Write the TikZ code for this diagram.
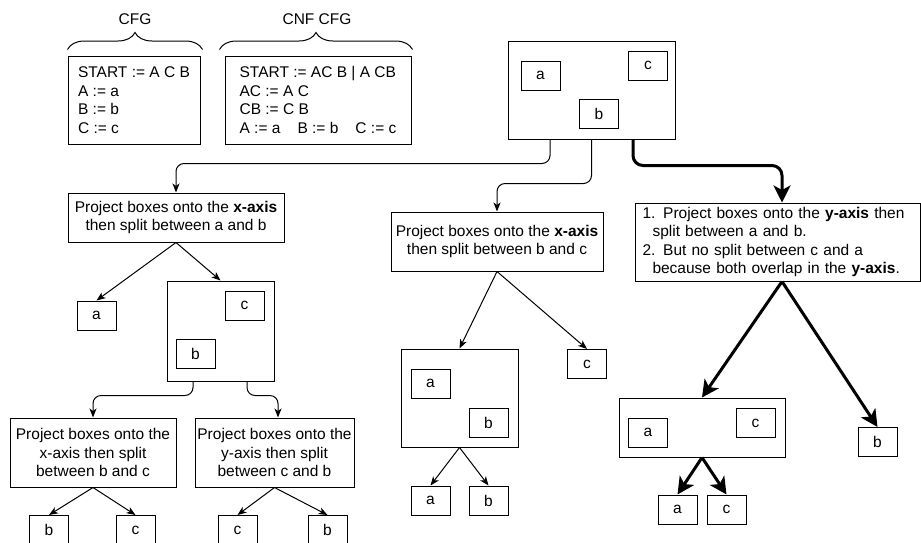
\documentclass[tikz,border=0pt]{standalone}
\usepackage{fontspec}
\setmainfont{Liberation Sans}
\usetikzlibrary{arrows.meta,decorations.pathreplacing,positioning}

\begin{document}
\begin{tikzpicture}[x=1pt,y=-1pt,
    font=\fontsize{15.5}{18.5}\selectfont,
    box/.style={draw,line width=1pt,inner sep=0pt,align=center},
    leaf/.style={box,minimum width=39pt,minimum height=29pt},
    link/.style={line width=1pt,-{Stealth[length=9pt,width=7pt,inset=2.5pt]}},
    elbow/.style={link,rounded corners=8pt},
    strong/.style={line width=3pt,-{Stealth[length=17pt,width=17pt,inset=4.5pt]}},
    strongelbow/.style={strong,rounded corners=10pt},
    curly/.style={line width=1pt,decorate,decoration={brace,amplitude=17pt}}]
    \clip (0,0) rectangle (921,542);

    \node[box,minimum width=132pt,minimum height=88pt,align=left] (cfg) at (134,100) {START := A C B\\A := a\\B := b\\C := c};
    \node[box,minimum width=186pt,minimum height=88pt,align=left] (cnf) at (318,100) {START := AC B \textbar{} A CB\\AC := A C\\CB := C B\\A := a\hspace{17pt}B := b\hspace{17pt}C := c};
    \draw[curly] ([yshift=6pt]cfg.north west) -- ([xshift=2pt,yshift=6pt]cfg.north east);
    \draw[curly] ([xshift=-5pt,yshift=6pt]cnf.north west) -- ([xshift=1pt,yshift=6pt]cnf.north east);
    \node (cfglabel) at (135,19) {CFG};
    \node (cnflabel) at (317,19) {CNF CFG};

    \node[box,minimum width=167pt,minimum height=98pt] (start) at (591.5,90) {};
    \node[leaf] (start-a) at (540.5,75.5) {a};
    \node[leaf] (start-c) at (648,65.5) {c};
    \node[leaf] (start-b) at (599,114) {b};

    \node[box,minimum width=216pt,minimum height=49pt] (splitab) at (176,217.5) {Project boxes onto the \textbf{x-axis}\\then split between a and b};
    \node[leaf] (leaf-a1) at (96.5,315.5) {a};
    \node[box,minimum width=107pt,minimum height=100pt] (bc) at (220.5,331) {};
    \node[leaf] (bc-c) at (244.5,305.5) {c};
    \node[leaf] (bc-b) at (195.5,354) {b};
    \node[box,minimum width=166pt,minimum height=69pt] (splitxbc) at (93,452.5) {Project boxes onto the\\x-axis then split\\between b and c};
    \node[box,minimum width=159pt,minimum height=69pt] (splitycb) at (274.5,452.5) {Project boxes onto the\\y-axis then split\\between c and b};
    \node[leaf] (leaf-b1) at (49,530) {b};
    \node[leaf] (leaf-c1) at (135.5,530) {c};
    \node[leaf] (leaf-c2) at (237.5,530) {c};
    \node[leaf] (leaf-b2) at (327.5,530) {b};

    \node[box,minimum width=212pt,minimum height=59pt] (splitbc) at (497,241.5) {Project boxes onto the \textbf{x-axis}\\then split between b and c};
    \node[box,minimum width=117pt,minimum height=98pt] (ab) at (459.5,398) {};
    \node[leaf] (ab-a) at (430.5,383.5) {a};
    \node[leaf] (ab-b) at (488.5,423) {b};
    \node[leaf] (leaf-c3) at (587,364) {c};
    \node[leaf] (leaf-a3) at (430.5,500.5) {a};
    \node[leaf] (leaf-b3) at (488.5,500.5) {b};

    \node[box,minimum width=285pt,minimum height=78pt,text width=270pt,align=left] (splityaxis) at (777.5,242) {1. Project boxes onto the \textbf{y-axis} then\\\hspace*{10pt}split between a and b.\\2. But no split between c and a\\\hspace*{10pt}because both overlap in the \textbf{y-axis}.};
    \node[box,minimum width=166pt,minimum height=59pt] (ac) at (702,427.5) {};
    \node[leaf] (ac-a) at (648,432.5) {a};
    \node[leaf] (ac-c) at (755.5,423) {c};
    \node[leaf] (leaf-b4) at (877.5,442) {b};
    \node[leaf] (leaf-a4) at (677.5,509.5) {a};
    \node[leaf] (leaf-c4) at (726.5,509.5) {c};

    \draw[elbow] ([xshift=-41.5pt]start.south) -- ++(0,24) -| (splitab.north);
    \draw[elbow] (start.south) -- ++(0,44) -| (splitbc.north);
    \draw[strongelbow] ([xshift=41.5pt]start.south) -- ++(0,26) -| ([xshift=4.5pt]splityaxis.north);

    \draw[link] (splitab.south) -- (leaf-a1.north);
    \draw[link] (splitab.south) -- (bc.north);
    \draw[elbow] ([xshift=-27.5pt]bc.south) -- ++(0,14) -| (splitxbc.north);
    \draw[elbow] ([xshift=26.5pt]bc.south) -- ++(0,14) -| ([xshift=3.5pt]splitycb.north);
    \draw[link] (splitxbc.south) -- (leaf-b1.north);
    \draw[link] (splitxbc.south) -- (leaf-c1.north);
    \draw[link] (splitycb.south) -- (leaf-c2.north);
    \draw[link] (splitycb.south) -- (leaf-b2.north);

    \draw[link] (splitbc.south) -- (ab.north);
    \draw[link] (splitbc.south) -- (leaf-c3.north);
    \draw[link] (ab.south) -- (leaf-a3.north);
    \draw[link] (ab.south) -- (leaf-b3.north);

    \draw[strong] ([xshift=4.5pt]splityaxis.south) -- (ac.north);
    \draw[strong] ([xshift=4.5pt]splityaxis.south) -- (leaf-b4.north);
    \draw[strong] (ac.south) -- (leaf-a4.north);
    \draw[strong] (ac.south) -- (leaf-c4.north);
\end{tikzpicture}
\end{document}
